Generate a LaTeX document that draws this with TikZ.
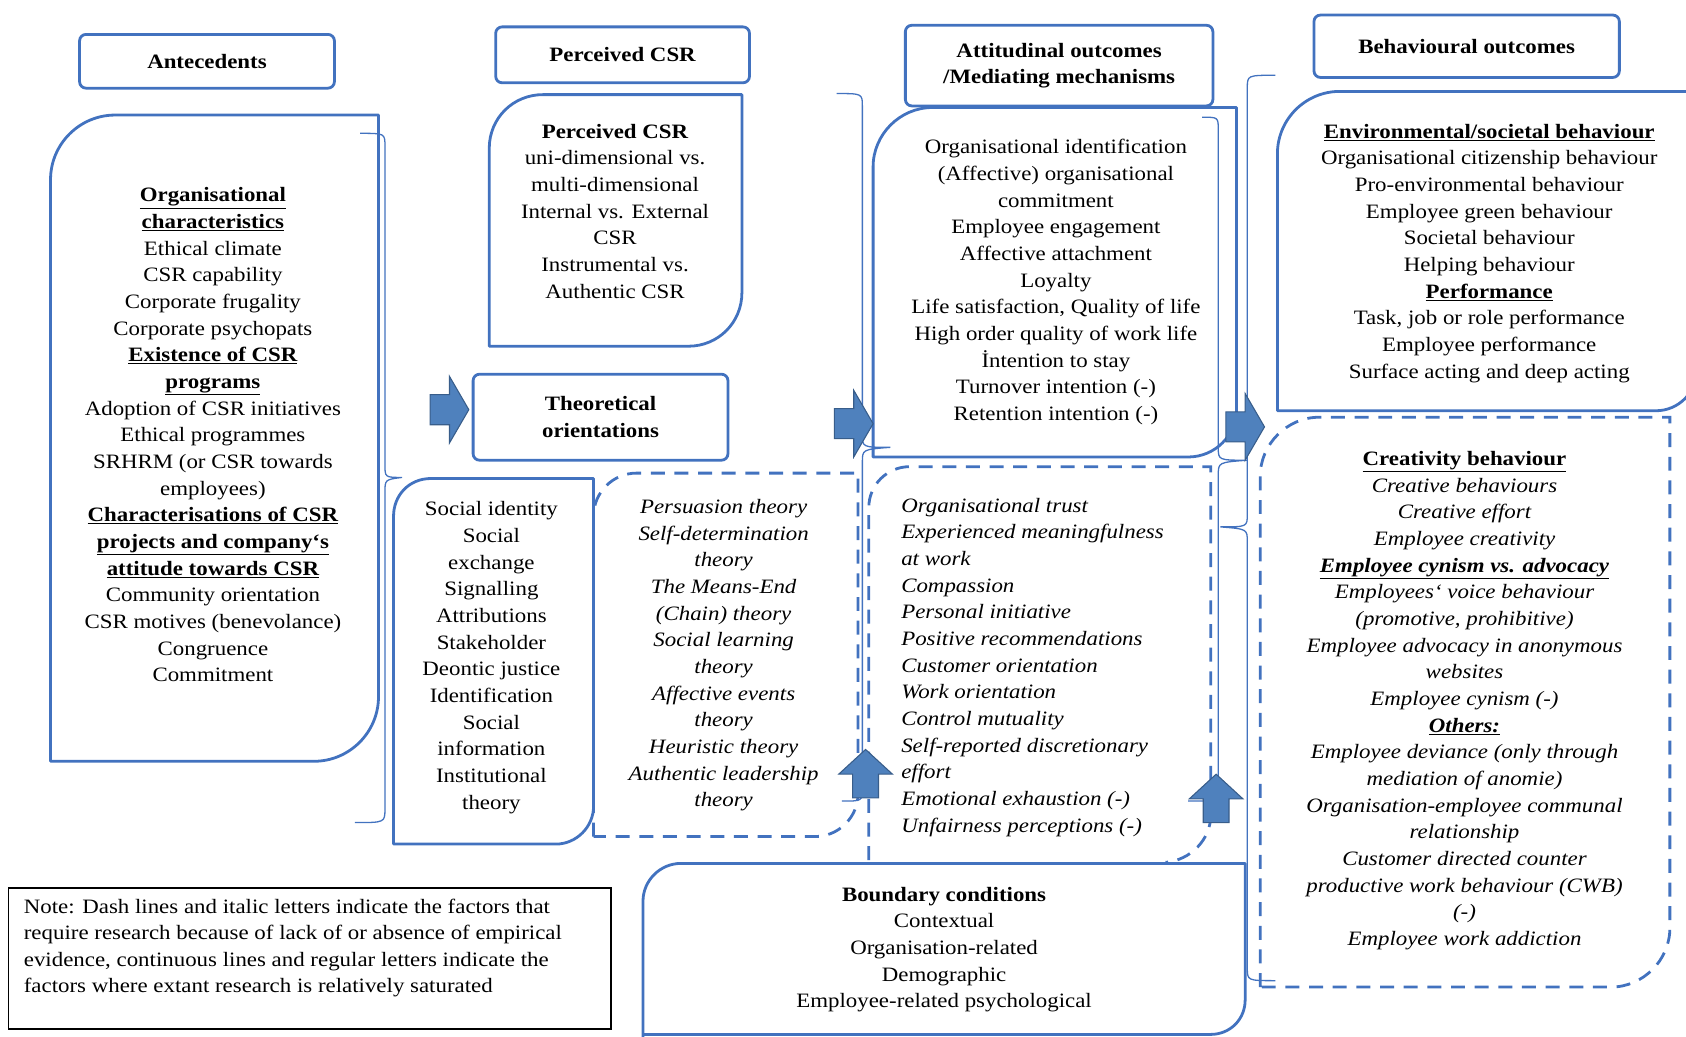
\documentclass[tikz,border=0pt]{standalone}
\usepackage{fontspec}
\setmainfont{Liberation Serif}[FakeStretch=1.12]
\usepackage{xcolor}
\usepackage{tikz}
\usetikzlibrary{positioning}
\definecolor{frameblue}{RGB}{66,114,191}
\definecolor{arrowblue}{RGB}{79,129,189}
\definecolor{arrowedge}{RGB}{56,93,138}
\newcommand\bodyfont{\fontsize{19}{24.8}\selectfont}
\newcommand\notefont{\fontsize{19}{24.5}\selectfont}
\tikzset{
	box line/.style={draw=frameblue, line width=2.6pt, line join=round},
	dash line/.style={draw=frameblue, line width=2.6pt, dash pattern=on 13pt off 9pt},
	brace line/.style={draw=frameblue, line width=1.2pt},
	head box/.style={draw=frameblue, line width=2.6pt, rounded corners=6pt, align=center, font=\bodyfont\bfseries},
	list text/.style={align=center, inner sep=0pt, font=\bodyfont},
	block arrow/.style={fill=arrowblue, draw=arrowedge, line width=1pt},
	right block/.pic={\draw[block arrow] (-18,-14) -- (0,-14) -- (0,-31) -- (18,0) -- (0,31) -- (0,14) -- (-18,14) -- cycle;},
	up block/.pic={\draw[block arrow] (-12,22) -- (-12,0) -- (-25,0) -- (0,-23) -- (25,0) -- (12,0) -- (12,22) -- cycle;}
}

\begin{document}
\begin{tikzpicture}[x=1pt, y=-1pt]
			\useasboundingbox (0,0) rectangle (1568,964);
			% column headers
			\node[head box, minimum width=237pt, minimum height=50pt] (antehead) at (192.5,57) {Antecedents};
			\node[head box, minimum width=236pt, minimum height=52pt] (csrhead) at (579,51) {Perceived CSR};
			\node[head box, minimum width=286pt, minimum height=75pt] (atthead) at (985,61) {Attitudinal outcomes\\/Mediating mechanisms};
			\node[head box, minimum width=284pt, minimum height=58pt] (behhead) at (1364,43) {Behavioural outcomes};
			
			% boxes
			\draw[box line] (47,708) -- (47,167) .. controls (47,134) and (74,107) .. (107,107) -- (352,107) -- (352,648) .. controls (352,681) and (325,708) .. (292,708) -- cycle;
			\draw[box line] (455,322) -- (455,138) .. controls (455,110) and (477,88) .. (505,88) -- (690,88) -- (690,272) .. controls (690,300) and (668,322) .. (640,322) -- cycle;
			\node[head box, minimum width=237pt, minimum height=80pt] (theohead) at (558.5,388) {Theoretical\\orientations};
			\draw[box line] (366,785) -- (366,480) .. controls (366,461) and (380,445) .. (401,445) -- (552,445) -- (552,750) .. controls (552,769) and (536,785) .. (517,785) -- cycle;
			\draw[dash line] (552,778) -- (552,480) .. controls (552,458) and (570,440) .. (592,440) -- (798,440) -- (798,738) .. controls (798,760) and (780,778) .. (758,778) -- cycle;
			\draw[box line] (812,425) -- (812,155) .. controls (812,125) and (837,100) .. (867,100) -- (1150,100) -- (1150,380) .. controls (1150,405) and (1130,425) .. (1105,425) -- cycle;
			\draw[dash line] (808,800) -- (808,472) .. controls (808,451) and (825,434) .. (846,434) -- (1126,434) -- (1126,758) .. controls (1126,781) and (1107,800) .. (1084,802);
			\draw[box line] (598,975) -- (598,838) .. controls (598,819) and (614,803) .. (633,803) -- (1158,803) -- (1158,930) .. controls (1158,948) and (1144,962) .. (1126,962) -- (598,962);
			\draw[box line] (1188,382) -- (1188,143) .. controls (1188,111) and (1214,85) .. (1246,85) -- (1578,85) -- (1578,344) .. controls (1578,365) and (1561,382) .. (1540,382) -- cycle;
			\draw[dash line] (1172,918) -- (1172,443) .. controls (1172,413) and (1197,388) .. (1227,388) -- (1553,388) -- (1553,863) .. controls (1553,893) and (1528,918) .. (1498,918) -- cycle;
			\draw[black, line width=1.5pt] (8,826) rectangle (568,957);
			
			% braces
			\draw[brace line] (335,124) .. controls (358,124) .. (358,136) -- (358,432) .. controls (358,444) .. (374,444) .. controls (358,446) .. (358,458) -- (358,752) .. controls (358,765) .. (330,765);
			\draw[brace line] (778,87) .. controls (802,87) .. (802,99) -- (802,404) .. controls (802,416) .. (828,416) .. controls (802,418) .. (802,430) -- (802,733) .. controls (802,745) .. (783,745);
			\draw[brace line] (1118,109) .. controls (1133,109) .. (1133,121) -- (1133,416) .. controls (1133,428) .. (1160,428) .. controls (1133,430) .. (1133,442) -- (1133,733) .. controls (1133,745) .. (1105,745);
			\draw[brace line] (1186,70) .. controls (1160,70) .. (1160,82) -- (1160,478) .. controls (1160,490) .. (1135,490) .. controls (1160,492) .. (1160,504) -- (1160,900) .. controls (1160,912) .. (1186,912);
			
			% block arrows
			\foreach \px/\py in {418/381, 794/394, 1158/397}
				\pic at (\px,\py) {right block};
			\foreach \px/\py in {805/720, 1131/743}
				\pic at (\px,\py) {up block};
			
			% texts
			\node[list text] (antelist) at (198,404.5) {\textbf{\underline{Organisational}}\\\textbf{\underline{characteristics}}\\Ethical climate\\CSR capability\\Corporate frugality\\Corporate psychopats\\\textbf{\underline{Existence of CSR}}\\\textbf{\underline{programs}}\\Adoption of CSR initiatives\\Ethical programmes\\SRHRM (or CSR towards\\employees)\\\textbf{\underline{Characterisations of CSR}}\\\textbf{\underline{projects and company`s}}\\\textbf{\underline{attitude towards CSR}}\\Community orientation\\CSR motives (benevolance)\\Congruence\\Commitment};
			\node[list text] (csrlist) at (572,196.5) {\textbf{Perceived CSR}\\uni-dimensional vs.\\multi-dimensional\\Internal vs. External\\CSR\\Instrumental vs.\\Authentic CSR};
			\node[list text] (theolist) at (457,611.5) {Social identity\\Social\\exchange\\Signalling\\Attributions\\Stakeholder\\Deontic justice\\Identification\\Social\\information\\Institutional\\theory};
			\node[list text, font=\bodyfont\itshape] (newtheolist) at (673,609.5) {Persuasion theory\\Self-determination\\theory\\The Means-End\\(Chain) theory\\Social learning\\theory\\Affective events\\theory\\Heuristic theory\\Authentic leadership\\theory};
			\node[list text] (attlist) at (982,262.5) {Organisational identification\\(Affective) organisational\\commitment\\Employee engagement\\Affective attachment\\Loyalty\\Life satisfaction, Quality of life\\High order quality of work life\\İntention to stay\\Turnover intention (-)\\Retention intention (-)};
			\node[list text, font=\bodyfont\itshape, align=left, anchor=west] (newattlist) at (838,620.5) {Organisational trust\\Experienced meaningfulness\\at work\\Compassion\\Personal initiative\\Positive recommendations\\Customer orientation\\Work orientation\\Control mutuality\\Self-reported discretionary\\effort\\Emotional exhaustion (-)\\Unfairness perceptions (-)};
			\node[list text] (boundlist) at (878,883) {\textbf{Boundary conditions}\\Contextual\\Organisation-related\\Demographic\\Employee-related psychological};
			\node[list text] (behlist) at (1385,235.5) {\textbf{\underline{Environmental/societal behaviour}}\\Organisational citizenship behaviour\\Pro-environmental behaviour\\Employee green behaviour\\Societal behaviour\\Helping behaviour\\\textbf{\underline{Performance}}\\Task, job or role performance\\Employee performance\\Surface acting and deep acting};
			\node[list text, font=\bodyfont\itshape] (newbehlist) at (1362,651.5) {\textup{\textbf{\underline{Creativity behaviour}}}\\Creative behaviours\\Creative effort\\Employee creativity\\\textbf{\underline{Employee cynism vs. advocacy}}\\Employees` voice behaviour\\(promotive, prohibitive)\\Employee advocacy in anonymous\\websites\\Employee cynism (-)\\\textbf{\underline{Others:}}\\Employee deviance (only through\\mediation of anomie)\\Organisation-employee communal\\relationship\\Customer directed counter\\productive work behaviour (CWB)\\(-)\\Employee work addiction};
			\node[inner sep=0pt, align=left, anchor=west, font=\notefont] (note) at (22,881.5) {Note: Dash lines and italic letters indicate the factors that\\require research because of lack of or absence of empirical\\evidence, continuous lines and regular letters indicate the\\factors where extant research is relatively saturated};
		\end{tikzpicture}
\end{document}
